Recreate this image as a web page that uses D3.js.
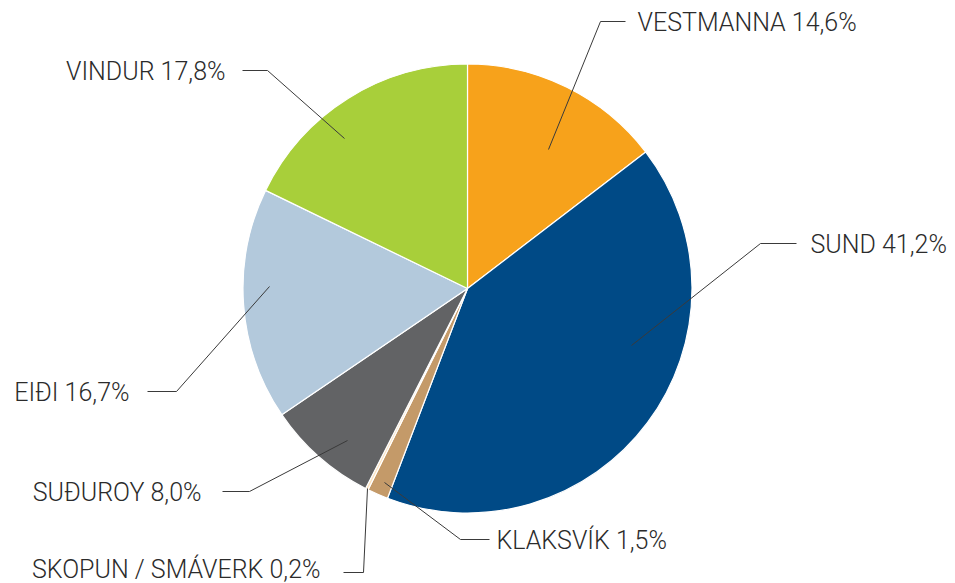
<!DOCTYPE html>
<html>
<head>
<meta charset="utf-8">
<script src="https://cdn.jsdelivr.net/npm/d3@7"></script>
<style>
  html, body { margin: 0; padding: 0; background: #fff; }
  svg { display: block; }
  text { font-family: Roboto, "Open Sans", sans-serif; font-weight: 300; fill: #2b2b2b; }
</style>
</head>
<body>
<svg id="chart" width="955" height="583"></svg>
<script>
// ---- data ----
const categories = ["VESTMANNA", "SUND", "KLAKSVÍK", "SKOPUN / SMÁVERK", "SUÐUROY", "EIÐI", "VINDUR"];
const values = [14.6, 41.2, 1.5, 0.2, 8.0, 16.7, 17.8];
const valueLabels = ["14,6%", "41,2%", "1,5%", "0,2%", "8,0%", "16,7%", "17,8%"];
const colors = ["#F7A21B", "#004A86", "#C49A69", "#FDE3BE", "#626365", "#B3C9DC", "#A8CF3A"];

// ---- layout (leader lines; offsets from pie centre, px) ----
const leaders = [
  { inner: [81, -139], elbow: [133, -267], end: [158, -267], textX: 170, dy: 9, side: "right" },
  { inner: [164, 57], elbow: [293, -45], end: [329, -45], textX: 343, dy: 9, side: "right" },
  { inner: [-83, 194], elbow: [-7, 251], end: [22, 251], textX: 29, dy: 9, side: "right" },
  { inner: [-100, 200], elbow: [-104, 284], end: [-124, 284], textX: -147, dy: 5, side: "left" },
  { inner: [-120, 152], elbow: [-218, 203], end: [-245, 203], textX: -266, dy: 9, side: "left" },
  { inner: [-198, -2], elbow: [-291, 103], end: [-320, 103], textX: -338, dy: 9, side: "left" },
  { inner: [-123, -150], elbow: [-200, -218], end: [-225, -218], textX: -242, dy: 9, side: "left" }
];

const cx = 467.5, cy = 288.5, radius = 224.5;
const svg = d3.select("#chart");
const g = svg.append("g").attr("transform", `translate(${cx},${cy})`);

const data = categories.map((c, i) => ({ name: c, value: values[i], label: valueLabels[i], color: colors[i], lay: leaders[i] }));

const pie = d3.pie().value(d => d.value).sort(null);
const arc = d3.arc().innerRadius(0).outerRadius(radius);
const arcs = pie(data);

g.selectAll("path.slice")
  .data(arcs)
  .join("path")
  .attr("class", "slice")
  .attr("d", arc)
  .attr("fill", d => d.data.color)
  .attr("stroke", "#fff")
  .attr("stroke-width", 1.2)
  .attr("stroke-linejoin", "round");

g.selectAll("polyline.leader")
  .data(arcs)
  .join("polyline")
  .attr("class", "leader")
  .attr("points", d => [d.data.lay.inner, d.data.lay.elbow, d.data.lay.end].map(p => p.join(",")).join(" "))
  .attr("fill", "none")
  .attr("stroke", "#3a3a3a")
  .attr("stroke-width", 1);

g.selectAll("text.lbl")
  .data(arcs)
  .join("text")
  .attr("class", "lbl")
  .attr("x", d => d.data.lay.textX)
  .attr("y", d => d.data.lay.end[1] + d.data.lay.dy)
  .attr("text-anchor", d => d.data.lay.side === "right" ? "start" : "end")
  .attr("font-size", 25)
  .text(d => `${d.data.name} ${d.data.label}`);
</script>
</body>
</html>
